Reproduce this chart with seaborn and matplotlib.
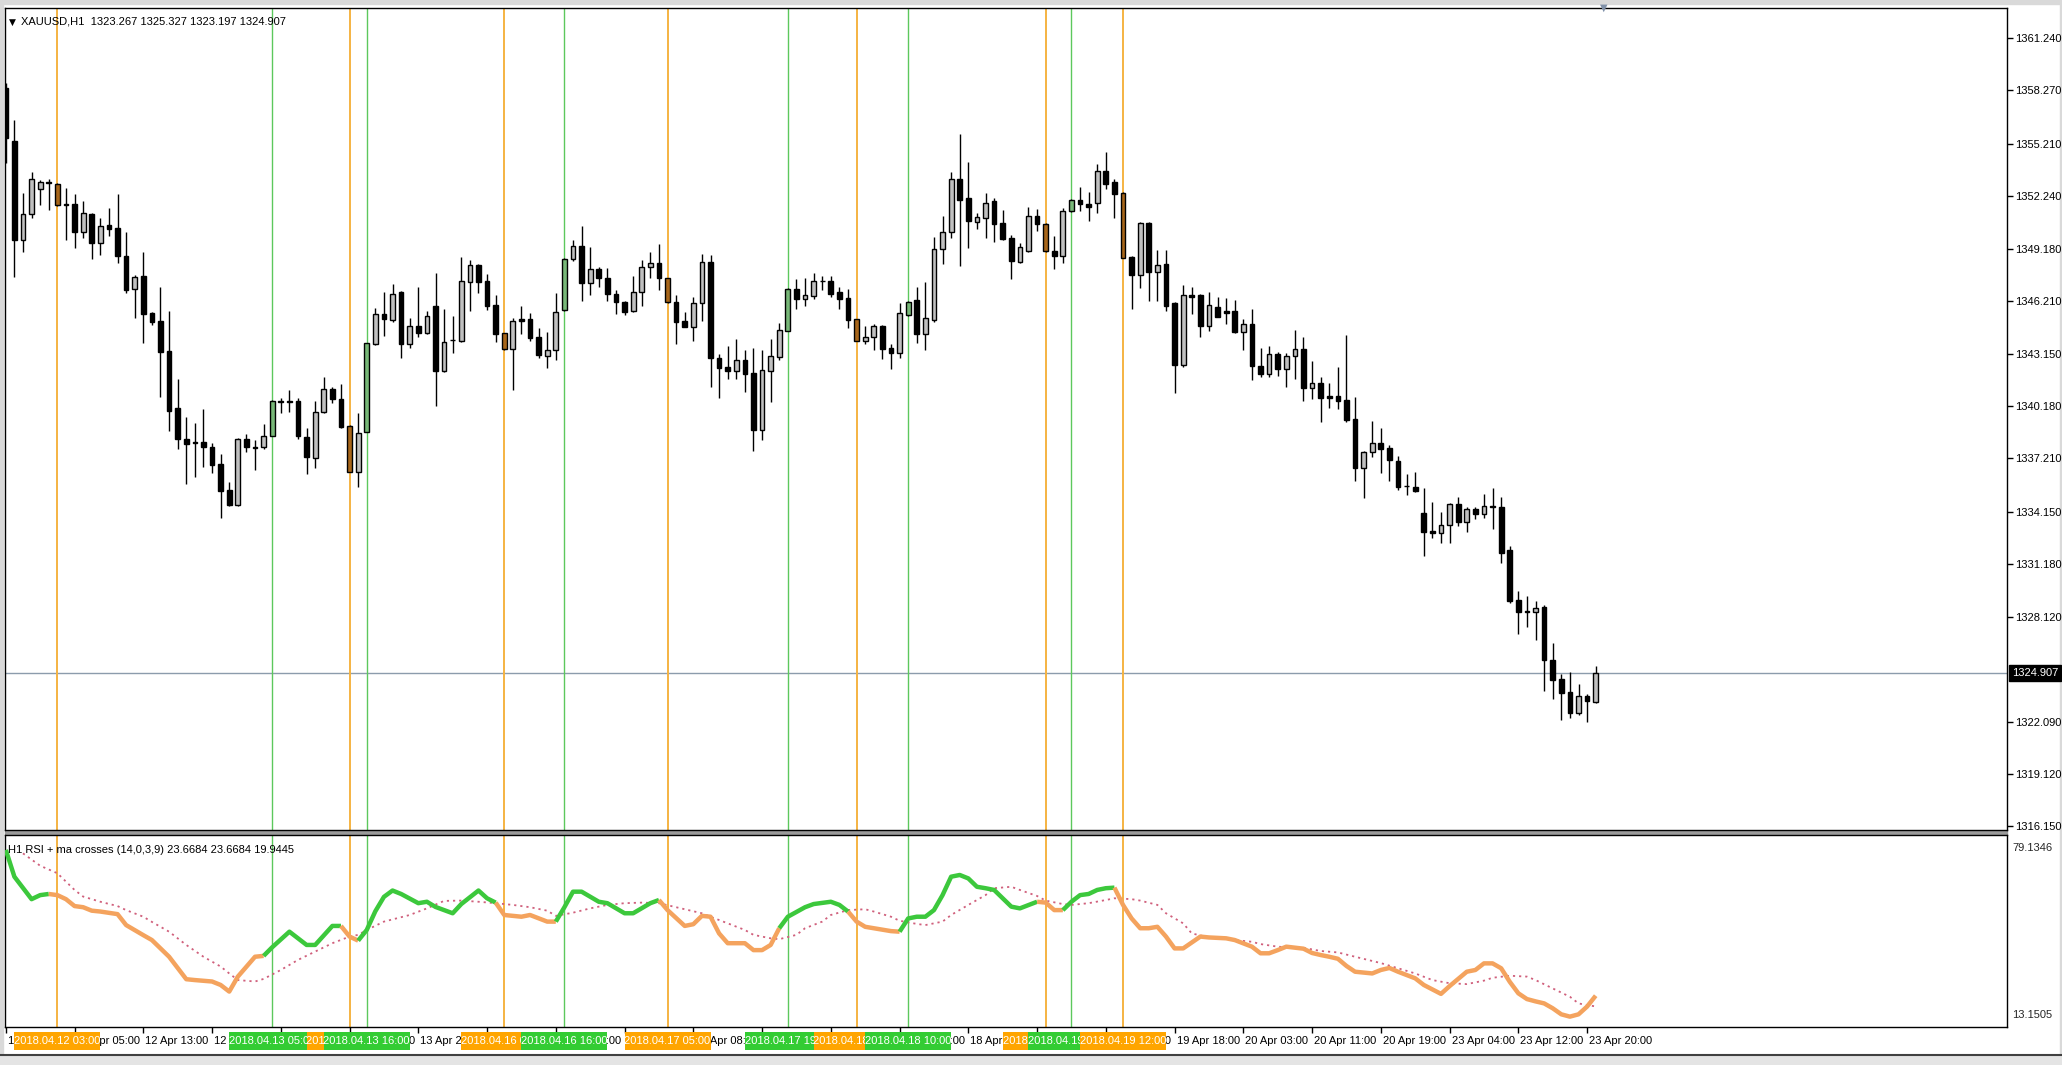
import matplotlib
matplotlib.use('Agg')
import matplotlib.pyplot as plt
import matplotlib.transforms as mtransforms
from matplotlib.patches import Rectangle
import numpy as np
import seaborn as sns

# XAUUSD H1 candles, bar 0 = 11 Apr 20:00, last bar = 23 Apr 21:00
opens = [1358.39, 1355.39, 1349.70, 1351.17, 1352.62, 1353.00, 1352.93, 1351.76, 1351.75, 1350.18,
         1351.19, 1349.51, 1350.56, 1350.37, 1348.81, 1346.88, 1347.64, 1345.54, 1345.07, 1343.35,
         1340.07, 1338.31, 1338.12, 1338.16, 1337.87, 1336.88, 1335.39, 1334.53, 1338.31, 1337.87,
         1337.83, 1338.50, 1340.50, 1340.50, 1340.50, 1338.44, 1337.20, 1339.84, 1341.17, 1340.60,
         1339.07, 1336.44, 1338.73, 1343.75, 1345.45, 1345.12, 1346.75, 1343.75, 1344.80, 1344.36,
         1345.93, 1342.20, 1343.96, 1343.94, 1347.32, 1348.27, 1347.36, 1345.98, 1344.36, 1343.46,
         1345.16, 1345.16, 1344.17, 1343.08, 1343.41, 1345.70, 1348.60, 1349.36, 1347.22, 1348.02,
         1347.55, 1346.61, 1346.17, 1345.66, 1346.71, 1348.18, 1348.37, 1347.51, 1346.17, 1345.07,
         1344.74, 1346.08, 1348.46, 1342.93, 1342.45, 1342.22, 1342.83, 1342.07, 1338.83, 1342.22,
         1343.02, 1344.51, 1346.90, 1346.33, 1346.52, 1347.38, 1347.36, 1346.71, 1346.36, 1345.16,
         1343.94, 1344.13, 1344.80, 1343.54, 1343.21, 1345.41, 1346.27, 1344.32, 1345.12, 1349.17,
         1350.18, 1353.20, 1352.09, 1350.72, 1350.98, 1351.94, 1350.66, 1349.84, 1348.46, 1349.07,
         1351.10, 1350.62, 1349.09, 1348.81, 1351.36, 1351.99, 1351.75, 1351.80, 1353.65, 1353.01,
         1352.41, 1348.75, 1347.70, 1350.66, 1347.85, 1348.31, 1346.12, 1342.55, 1346.55, 1346.55,
         1344.78, 1345.89, 1345.64, 1345.64, 1344.42, 1344.89, 1342.51, 1342.03, 1343.16, 1342.33,
         1343.06, 1343.44, 1341.21, 1341.54, 1340.77, 1340.77, 1340.54, 1339.44, 1336.67, 1337.55,
         1338.06, 1337.81, 1337.07, 1335.64, 1335.58, 1334.05, 1333.04, 1332.91, 1333.39, 1334.59,
         1333.54, 1334.30, 1334.00, 1334.47, 1334.40, 1331.95, 1329.09, 1328.48, 1328.42, 1328.71,
         1325.66, 1324.57, 1323.84, 1322.60, 1323.61, 1323.267]
highs = [1358.67, 1356.57, 1352.41, 1353.58, 1353.14, 1353.20, 1352.95, 1352.66, 1352.32, 1351.94,
         1351.25, 1350.98, 1351.55, 1352.34, 1350.18, 1347.70, 1349.00, 1345.60, 1346.99, 1345.64,
         1341.73, 1339.59, 1339.24, 1340.01, 1338.06, 1337.45, 1335.87, 1338.35, 1338.60, 1338.25,
         1339.17, 1340.54, 1340.64, 1341.12, 1340.64, 1338.92, 1340.50, 1341.88, 1341.31, 1341.44,
         1339.11, 1339.78, 1343.83, 1345.83, 1346.75, 1347.19, 1346.78, 1345.26, 1346.99, 1345.66,
         1347.83, 1345.73, 1345.35, 1348.75, 1348.56, 1348.31, 1347.74, 1346.56, 1344.40, 1345.22,
         1345.93, 1345.51, 1344.68, 1344.46, 1346.65, 1348.65, 1349.70, 1350.50, 1349.28, 1348.14,
         1348.08, 1346.84, 1346.21, 1347.66, 1348.56, 1349.00, 1349.47, 1347.55, 1346.55, 1345.60,
         1346.42, 1348.90, 1348.85, 1343.16, 1343.63, 1344.02, 1343.41, 1343.54, 1343.41, 1344.02,
         1344.93, 1346.94, 1347.45, 1347.55, 1347.83, 1347.66, 1347.64, 1347.03, 1346.90, 1345.20,
         1344.80, 1344.88, 1344.84, 1343.73, 1346.08, 1346.21, 1346.99, 1347.28, 1349.89, 1351.10,
         1353.58, 1355.77, 1354.19, 1351.23, 1352.41, 1352.09, 1351.42, 1349.99, 1349.55, 1351.57,
         1351.48, 1350.66, 1349.93, 1351.52, 1352.03, 1352.76, 1352.47, 1354.04, 1354.76, 1353.18,
         1352.45, 1348.79, 1350.75, 1350.75, 1349.13, 1349.13, 1346.15, 1347.13, 1347.03, 1346.59,
         1346.75, 1346.46, 1346.36, 1346.27, 1345.16, 1345.73, 1343.54, 1343.63, 1343.27, 1343.25,
         1344.55, 1344.17, 1342.80, 1341.84, 1341.50, 1342.45, 1344.26, 1340.73, 1337.62, 1339.36,
         1338.92, 1337.97, 1337.34, 1336.31, 1336.40, 1335.52, 1334.68, 1334.15, 1334.63, 1334.97,
         1334.40, 1334.40, 1335.16, 1335.52, 1334.97, 1332.20, 1329.61, 1329.32, 1329.03, 1328.81,
         1326.65, 1324.84, 1324.99, 1324.26, 1323.69, 1325.327]
lows = [1354.09, 1347.60, 1349.04, 1350.94, 1351.71, 1351.42, 1351.67, 1349.70, 1349.23, 1349.84,
        1348.60, 1348.84, 1349.95, 1348.41, 1346.69, 1345.22, 1343.79, 1344.84, 1340.73, 1338.77,
        1337.74, 1335.73, 1336.15, 1336.73, 1336.34, 1333.81, 1334.49, 1334.49, 1337.58, 1336.53,
        1337.74, 1338.46, 1339.78, 1339.87, 1338.29, 1336.29, 1336.67, 1339.78, 1340.39, 1338.92,
        1336.40, 1335.54, 1338.69, 1343.69, 1344.21, 1345.03, 1342.93, 1343.50, 1344.17, 1344.30,
        1340.20, 1342.17, 1343.22, 1343.88, 1345.64, 1346.65, 1345.70, 1343.85, 1343.42, 1341.12,
        1344.30, 1343.92, 1342.93, 1342.39, 1342.83, 1345.66, 1348.50, 1346.23, 1346.56, 1347.03,
        1346.21, 1345.47, 1345.41, 1345.60, 1345.94, 1347.51, 1346.84, 1346.10, 1343.75, 1344.70,
        1343.94, 1345.09, 1341.31, 1340.64, 1341.73, 1341.73, 1340.98, 1337.62, 1338.25, 1340.45,
        1342.83, 1344.47, 1345.75, 1345.94, 1346.33, 1346.84, 1346.42, 1345.75, 1344.65, 1343.90,
        1343.75, 1343.41, 1342.87, 1342.30, 1342.93, 1345.37, 1343.83, 1343.41, 1345.03, 1348.33,
        1349.80, 1348.23, 1349.23, 1350.31, 1349.80, 1349.61, 1349.70, 1347.47, 1348.41, 1349.04,
        1350.24, 1349.04, 1348.04, 1348.41, 1351.33, 1351.36, 1350.81, 1351.27, 1352.60, 1350.94,
        1348.65, 1345.73, 1346.94, 1346.21, 1346.21, 1345.66, 1340.92, 1342.41, 1345.47, 1344.13,
        1344.51, 1345.28, 1344.89, 1344.36, 1343.41, 1341.69, 1341.88, 1341.88, 1341.92, 1341.31,
        1341.73, 1340.49, 1340.58, 1339.30, 1340.10, 1340.01, 1339.30, 1335.91, 1334.91, 1337.30,
        1336.34, 1335.91, 1335.39, 1335.10, 1335.30, 1331.61, 1332.62, 1332.37, 1332.37, 1333.35,
        1332.97, 1333.71, 1333.77, 1333.14, 1331.23, 1328.94, 1327.15, 1327.53, 1326.80, 1323.88,
        1323.40, 1322.22, 1322.35, 1322.51, 1322.13, 1323.197]
closes = [1355.52, 1349.70, 1351.19, 1353.20, 1353.00, 1352.97, 1351.71, 1351.73, 1350.18, 1351.23,
          1349.51, 1350.52, 1350.33, 1348.79, 1346.84, 1347.60, 1345.49, 1345.03, 1343.31, 1339.93,
          1338.29, 1338.02, 1338.06, 1337.83, 1336.82, 1335.35, 1334.53, 1338.31, 1337.83, 1337.78,
          1338.50, 1340.50, 1340.41, 1340.41, 1338.50, 1337.30, 1339.87, 1341.17, 1340.58, 1338.98,
          1336.44, 1338.67, 1343.79, 1345.45, 1345.16, 1346.61, 1343.75, 1344.80, 1344.40, 1345.37,
          1342.20, 1343.88, 1344.00, 1347.36, 1348.27, 1347.32, 1345.94, 1344.30, 1343.46, 1345.07,
          1345.07, 1344.11, 1343.12, 1343.41, 1345.60, 1348.62, 1349.36, 1347.22, 1348.02, 1347.55,
          1346.59, 1346.14, 1345.56, 1346.71, 1348.18, 1348.37, 1347.51, 1346.13, 1345.03, 1344.74,
          1346.08, 1348.46, 1342.93, 1342.36, 1342.22, 1342.83, 1342.01, 1338.83, 1342.26, 1343.06,
          1344.55, 1346.90, 1346.33, 1346.55, 1347.36, 1347.34, 1346.59, 1346.31, 1345.12, 1343.94,
          1344.17, 1344.80, 1343.46, 1343.21, 1345.54, 1346.17, 1344.32, 1345.26, 1349.19, 1350.18,
          1353.18, 1351.99, 1350.81, 1351.00, 1351.84, 1350.60, 1349.76, 1348.52, 1349.28, 1351.10,
          1350.62, 1349.07, 1348.81, 1351.38, 1351.99, 1351.75, 1351.61, 1353.65, 1352.89, 1352.34,
          1348.69, 1347.70, 1350.66, 1347.85, 1348.27, 1345.92, 1342.55, 1346.55, 1346.46, 1344.78,
          1345.98, 1345.31, 1345.51, 1344.42, 1344.88, 1342.49, 1342.03, 1343.16, 1342.30, 1343.06,
          1343.44, 1341.21, 1341.54, 1340.64, 1340.68, 1340.50, 1339.40, 1336.67, 1337.58, 1338.06,
          1337.74, 1337.11, 1335.54, 1335.60, 1335.35, 1333.00, 1332.95, 1333.39, 1334.59, 1333.54,
          1334.30, 1334.02, 1334.47, 1334.40, 1331.80, 1329.03, 1328.42, 1328.41, 1328.65, 1325.66,
          1324.51, 1323.79, 1322.60, 1323.61, 1323.33, 1324.907]

last_price = 1324.907
price_ticks = [1361.240, 1358.270, 1355.210, 1352.240, 1349.180, 1346.210, 1343.150, 1340.180,
               1337.210, 1334.150, 1331.180, 1328.120, 1322.090, 1319.120, 1316.150]

# cross signals: bar, kind, label
signal_bars = [6, 31, 40, 42, 58, 65, 77, 91, 99, 105, 121, 124, 130]
signal_kinds = ['down', 'up', 'down', 'up', 'down', 'up', 'down', 'up', 'down', 'up', 'down', 'up', 'down']
signal_labels = ['2018.04.12 03:00', '2018.04.13 05:00', '2018.04.13 14:00', '2018.04.13 16:00',
                 '2018.04.16 09:00', '2018.04.16 16:00', '2018.04.17 05:00', '2018.04.17 19:00',
                 '2018.04.18 04:00', '2018.04.18 10:00', '2018.04.19 03:00', '2018.04.19 06:00',
                 '2018.04.19 12:00']

# RSI(14) and its MA, read at selected bars
rsi_bars = [0, 1, 3, 4, 5, 6, 7, 8, 9, 10, 11, 13, 14, 16, 17, 19, 21, 22, 24, 25,
            26, 27, 29, 30, 31, 33, 35, 36, 38, 39, 40, 41, 42, 43, 44, 45, 46, 48, 49, 50,
            52, 53, 55, 56, 57, 58, 60, 61, 63, 64, 65, 66, 67, 69, 70, 72, 73, 75, 76, 77,
            79, 80, 81, 82, 83, 84, 86, 87, 88, 89, 90, 91, 93, 94, 96, 97, 98, 99, 100, 101,
            103, 104, 105, 106, 107, 108, 109, 110, 111, 112, 113, 114, 115, 116, 117, 118, 120, 121, 122, 123,
            124, 125, 126, 127, 128, 129, 130, 131, 132, 133, 134, 135, 136, 137, 139, 140, 142, 143, 145, 146,
            147, 148, 149, 151, 152, 153, 154, 155, 156, 157, 159, 160, 161, 162, 164, 165, 167, 168, 169, 170,
            171, 172, 173, 174, 175, 176, 177, 178, 179, 180, 181, 182, 183, 184, 185]
rsi_vals = [74.3, 65.0, 57.2, 58.6, 59.0, 58.6, 57.2, 54.8, 54.4, 53.2, 52.9, 52.0, 48.2, 44.7, 43.0, 37.2, 29.4, 29.1, 28.6, 27.4,
            25.1, 30.3, 37.2, 37.5, 40.5, 45.9, 41.3, 41.3, 47.9, 47.9, 44.2, 42.8, 46.5, 53.0, 58.0, 60.2, 59.0, 55.8, 56.3, 54.5,
            52.3, 55.5, 60.2, 57.5, 56.0, 51.7, 51.1, 51.7, 49.4, 49.4, 54.4, 59.8, 59.8, 56.3, 55.8, 52.3, 52.3, 55.8, 56.9, 53.4,
            47.9, 48.5, 51.4, 51.1, 45.3, 41.9, 41.9, 39.5, 39.5, 41.3, 47.1, 51.1, 54.4, 55.5, 56.3, 55.2, 52.9, 49.4, 47.6, 47.1,
            46.1, 45.9, 50.5, 51.1, 51.1, 53.4, 58.6, 65.0, 65.6, 64.4, 61.5, 61.0, 60.4, 57.5, 54.6, 54.0, 56.3, 56.0, 53.4, 53.4,
            56.3, 58.6, 59.0, 60.4, 61.0, 61.2, 55.2, 50.5, 47.1, 47.1, 47.6, 44.2, 40.1, 40.1, 44.2, 43.9, 43.6, 43.0, 40.7, 38.4,
            38.4, 39.5, 40.7, 40.0, 38.5, 37.8, 37.2, 36.5, 34.0, 32.0, 31.4, 32.6, 33.3, 32.0, 29.7, 27.4, 24.3, 27.0, 29.5, 32.0,
            32.6, 34.9, 34.9, 33.2, 28.5, 24.5, 22.5, 21.7, 21.0, 19.3, 17.2, 16.4, 17.2, 19.9, 23.6684]
ma_bars = [2, 4, 6, 7, 8, 9, 11, 13, 14, 16, 17, 19, 21, 23, 25, 26, 27, 29, 30, 32,
           34, 36, 38, 40, 41, 42, 44, 47, 49, 51, 53, 55, 57, 59, 61, 63, 64, 66, 68, 70,
           72, 74, 76, 78, 81, 82, 84, 86, 87, 89, 90, 92, 93, 95, 96, 98, 100, 101, 103, 104,
           106, 107, 109, 110, 112, 114, 115, 117, 118, 120, 121, 123, 124, 126, 128, 129, 131, 132, 134, 135,
           137, 138, 140, 142, 143, 145, 146, 148, 149, 151, 153, 155, 157, 160, 162, 164, 166, 168, 170, 172,
           173, 175, 177, 178, 180, 182, 183, 184, 185]
ma_vals = [73.1, 68.8, 66.2, 63.3, 60.4, 58.1, 56.3, 54.8, 53.4, 51.1, 49.3, 45.9, 41.3, 37.2, 33.8, 31.4, 29.1, 28.6, 29.5, 32.6,
           36.1, 39.0, 41.9, 44.2, 44.8, 46.5, 49.4, 51.7, 54.0, 56.6, 56.7, 56.3, 55.8, 55.2, 54.4, 53.2, 51.4, 52.5, 54.0, 55.2,
           55.8, 56.0, 55.8, 54.4, 52.3, 51.1, 48.8, 46.5, 44.8, 43.6, 43.3, 44.8, 47.1, 49.4, 51.7, 53.4, 53.7, 52.9, 51.1, 49.7,
           48.6, 48.2, 49.4, 51.7, 55.2, 58.6, 61.0, 61.5, 60.4, 58.3, 56.7, 55.5, 55.2, 55.8, 56.9, 57.5, 57.2, 56.7, 55.2, 52.3,
           48.8, 45.3, 43.9, 43.6, 43.0, 42.4, 41.6, 40.7, 40.5, 40.3, 39.2, 38.7, 37.2, 35.0, 33.2, 31.4, 29.1, 28.0, 27.7, 28.9,
           29.9, 30.6, 30.3, 29.1, 26.2, 23.3, 21.0, 20.4, 19.9445]
rsi_top, rsi_bottom = 79.1346, 13.1505

# time axis: one label every 8 bars
time_tick_bars = list(range(0, 185, 8))
time_tick_labels = ['11 Apr 20:00', '12 Apr 05:00', '12 Apr 13:00', '12 Apr 21:00', '13 Apr 06:00',
                    '13 Apr 14:00', '13 Apr 22:00', '16 Apr 07:00', '16 Apr 15:00', '16 Apr 23:00',
                    '17 Apr 08:00', '17 Apr 16:00', '18 Apr 01:00', '18 Apr 09:00', '18 Apr 17:00',
                    '19 Apr 02:00', '19 Apr 10:00', '19 Apr 18:00', '20 Apr 03:00', '20 Apr 11:00',
                    '20 Apr 19:00', '23 Apr 04:00', '23 Apr 12:00', '23 Apr 20:00']

W, H = 2062, 1065
sns.set_style('white')
plt.rcParams['font.family'] = ['Liberation Sans', 'DejaVu Sans']
FS = 8

ORANGE = '#ffa500'
GREEN = '#33cc33'
kind_color = {'down': ORANGE, 'up': GREEN}


def px_box(left, top, right, bottom):
    return [left / W, 1 - bottom / H, (right - left) / W, (bottom - top) / H]


fig = plt.figure(figsize=(W / 100, H / 100), dpi=100)
fig.patch.set_facecolor('white')

# window frame pieces
for (l, t, r, b, col) in [(0, 0, W, 4, '#d9d9d9'), (0, 0, 3, H, '#d9d9d9'),
                          (W - 2, 0, W, H, '#d9d9d9'), (0, 1055, W, H, '#e4e4e4'),
                          (5, 831, 2007, 834, '#9a9a9a')]:
    fig.patches.append(Rectangle((l / W, 1 - b / H), (r - l) / W, (b - t) / H,
                                 transform=fig.transFigure, color=col, zorder=-5))
fig.add_artist(plt.Line2D([0, 1], [1 - 1055 / H] * 2, color='#404040', lw=1.5,
                          transform=fig.transFigure, zorder=-4))

x_left = (5 - 5.8) / 8.594
x_right = (2007 - 5.8) / 8.594

ax = fig.add_axes(px_box(5, 8, 2007, 830))
ax_rsi = fig.add_axes(px_box(5, 835, 2007, 1027))

# ---- price panel
o = np.array(opens)
h = np.array(highs)
l = np.array(lows)
c = np.array(closes)
idx = np.arange(len(o))
fill = np.where(c >= o, '#c0c0c0', '#000000').astype(object)
for b, k in zip(signal_bars, signal_kinds):
    fill[b] = '#a8661a' if k == 'down' else '#78b878'

ax.vlines(idx, l, h, color='black', lw=1, zorder=3)
ax.bar(idx, np.maximum(np.abs(c - o), 0.03), bottom=np.minimum(o, c), width=0.55,
       color=list(fill), edgecolor='black', linewidth=1, zorder=4)

for b, k in zip(signal_bars, signal_kinds):
    lw = 1.4 if k == 'down' else 1.0
    col = '#f5b342' if k == 'down' else '#5cc85c'
    ax.axvline(b, color=col, lw=lw, zorder=2)
    ax_rsi.axvline(b, color=col, lw=lw, zorder=2)

ax.axhline(last_price, color='#8c9cac', lw=1, zorder=1)

ax.set_xlim(x_left, x_right)
ax.set_ylim(1315.923, 1362.986)
ax.set_xticks([])
ax.yaxis.tick_right()
ax.set_yticks(price_ticks)
ax.set_yticklabels(['%.3f' % v for v in price_ticks])
ax.tick_params(axis='y', direction='out', length=4, width=1, pad=2, labelsize=FS,
               colors='black', right=True, left=False)
for s in ax.spines.values():
    s.set_color('black')
    s.set_linewidth(1)

trans_p = mtransforms.blended_transform_factory(ax.transAxes, ax.transData)
ax.text(1.0 + 5 / 2002, last_price, '%.3f' % last_price, transform=trans_p, ha='left',
        va='center', color='white', fontsize=FS, clip_on=False, zorder=10,
        bbox=dict(facecolor='black', edgecolor='black', boxstyle='square,pad=0.25'))

fig.text(9 / W, 1 - 22 / H, '\u25bc', fontsize=6.5, ha='left', va='center',
         family='DejaVu Sans', color='black')
fig.text(21 / W, 1 - 22 / H, 'XAUUSD,H1  1323.267 1325.327 1323.197 1324.907',
         fontsize=FS, ha='left', va='center', color='black')
fig.text(1604 / W, 1 - 8 / H, '\u25bc', fontsize=7, ha='center', va='center',
         family='DejaVu Sans', color='#8090a8')

# ---- RSI panel
sns.lineplot(x=ma_bars, y=ma_vals, ax=ax_rsi, color='#d0607c', lw=1.3,
             linestyle=(0, (1.2, 2.2)), estimator=None, zorder=3)


def state_at(bar):
    st = 'up'
    for sb, sk in zip(signal_bars, signal_kinds):
        if sb <= bar:
            st = sk
    return st


seg_state = [state_at(rsi_bars[j + 1]) for j in range(len(rsi_bars) - 1)]
start = 0
for j in range(1, len(seg_state) + 1):
    if j == len(seg_state) or seg_state[j] != seg_state[start]:
        xs = rsi_bars[start:j + 1]
        ys = rsi_vals[start:j + 1]
        col = '#3cc83c' if seg_state[start] == 'up' else '#f4a35e'
        sns.lineplot(x=xs, y=ys, ax=ax_rsi, color=col, lw=3.2, estimator=None,
                     solid_capstyle='butt', zorder=4)
        start = j

ax_rsi.set_xlim(x_left, x_right)
ax_rsi.set_ylim(12.80, 79.482)
ax_rsi.set_yticks([])
ax_rsi.set_xlabel('')
ax_rsi.set_ylabel('')
ax_rsi.set_xticks(time_tick_bars)
ax_rsi.set_xticklabels([])
ax_rsi.tick_params(axis='x', direction='out', length=4, width=1, bottom=True, colors='black')
for s in ax_rsi.spines.values():
    s.set_color('black')
    s.set_linewidth(1)

fig.text(8 / W, 1 - 850 / H, 'H1 RSI + ma crosses (14,0,3,9) 23.6684 23.6684 19.9445',
         fontsize=FS, ha='left', va='center', color='black')
fig.text(2012 / W, 1 - 848 / H, '%.4f' % rsi_top, fontsize=FS, ha='left', va='center')
fig.text(2012 / W, 1 - 1015 / H, '%.4f' % rsi_bottom, fontsize=FS, ha='left', va='center')

trans_t = mtransforms.blended_transform_factory(ax_rsi.transData, ax_rsi.transAxes)
label_y = -(1041 - 1027) / 192
for b, lab in zip(time_tick_bars, time_tick_labels):
    ax_rsi.text(b + 0.25, label_y, lab, transform=trans_t, ha='left', va='center',
                fontsize=FS, color='black', clip_on=False, zorder=5)

# signal time boxes: 86 px wide, 18 px tall, centred on the signal bar
box_w = 86 / 8.594
box_h = 18 / 192
for n, (b, k, lab) in enumerate(zip(signal_bars, signal_kinds, signal_labels)):
    ax_rsi.add_patch(Rectangle((b - box_w / 2, label_y - box_h / 2), box_w, box_h,
                               transform=trans_t, facecolor=kind_color[k], edgecolor='none',
                               clip_on=False, zorder=10 + 2 * n))
    ax_rsi.text(b, label_y, lab, transform=trans_t, ha='center', va='center',
                fontsize=FS, color='white', clip_on=False, zorder=11 + 2 * n)

fig.savefig('out.png', dpi=100, facecolor='white')
